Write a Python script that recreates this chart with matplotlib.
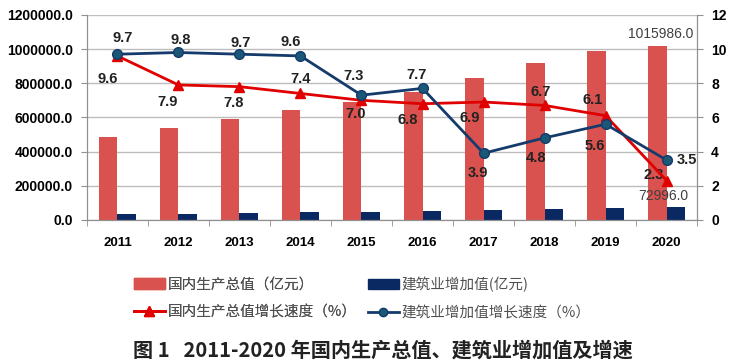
import numpy as np
import matplotlib.pyplot as plt
from matplotlib.lines import Line2D
from matplotlib.patches import Patch

plt.rcParams['font.family'] = ['Noto Sans CJK SC', 'DejaVu Sans']

years = ['2011', '2012', '2013', '2014', '2015', '2016', '2017', '2018', '2019', '2020']
gdp = [487940, 538580, 592963, 643563, 688858, 746395, 832036, 919281, 986515, 1015986]
cons = [32926, 36896, 40897, 44880, 46627, 49703, 55689, 61808, 70904, 72996]
gdp_rate = [9.6, 7.9, 7.8, 7.4, 7.0, 6.8, 6.9, 6.7, 6.1, 2.3]
cons_rate = [9.7, 9.8, 9.7, 9.6, 7.3, 7.7, 3.9, 4.8, 5.6, 3.5]

# label offsets in pixels (dx right, dy up) for the rate labels
gdp_off = [(-10, -23), (-11, -17), (-6, -16), (0, 14), (-6, -14),
           (-15, -16), (-14, -16), (-4, 13), (-13, 16), (-13, 6)]
cons_off = [(5, 16), (2, 12), (1, 11), (-10, 14), (-8, 19),
            (-6, 13), (-6, -20), (-9, -20), (-11, -22), (20, 0)]

RED_BAR = '#D9524F'
NAVY_BAR = '#0A2862'
RED_LINE = '#E00000'
NAVY_LINE = '#143B6B'
NUM_FONT = 'Liberation Sans'

fig = plt.figure(figsize=(7.3, 3.64), dpi=100)
ax = fig.add_axes([0.119, 0.396, 0.836, 0.563])
ax2 = ax.twinx()

x = np.arange(len(years))
w = 0.3
ax.bar(x - w / 2, gdp, width=w, color=RED_BAR, zorder=2)
ax.bar(x + w / 2, cons, width=w, color=NAVY_BAR, zorder=2)

ax.set_xlim(-0.5, len(years) - 0.5)
ax.set_ylim(0, 1200000)
yt = np.arange(0, 1200001, 200000)
ax.set_yticks(yt)
ax.set_yticklabels([f'{v:.1f}' for v in yt], fontsize=10, fontweight='bold', family=NUM_FONT)
ax.set_xticks(x)
ax.set_xticklabels(years, fontsize=9.5, fontweight='bold', family=NUM_FONT)
ax.set_xticks(np.arange(-0.5, len(years), 1), minor=True)
ax.tick_params(axis='x', which='major', length=0, pad=12)
ax.tick_params(axis='x', which='minor', length=4, color='#909090')
ax.tick_params(axis='y', length=4, color='#909090', pad=6)
ax.grid(axis='y', color='#BDBDBD', linewidth=1, zorder=0)
ax.set_axisbelow(True)
for s in ['left', 'right', 'bottom', 'top']:
    ax.spines[s].set_color('#909090')
ax.spines['top'].set_visible(False)

ax2.plot(x, gdp_rate, color=RED_LINE, lw=2, marker='^', ms=7, zorder=4)
ax2.plot(x, cons_rate, color=NAVY_LINE, lw=2, marker='o', ms=7,
         markerfacecolor='#1B5878', markeredgecolor=NAVY_LINE, zorder=5)
ax2.set_ylim(0, 12)
ax2.set_yticks(range(0, 13, 2))
ax2.set_yticklabels([str(v) for v in range(0, 13, 2)], fontsize=10, fontweight='bold',
                    family=NUM_FONT)
ax2.tick_params(axis='y', length=4, color='#909090', pad=6)
for s in ['left', 'right', 'bottom', 'top']:
    ax2.spines[s].set_color('#909090')
ax2.spines['top'].set_visible(False)

for vals, offs in ((gdp_rate, gdp_off), (cons_rate, cons_off)):
    for i, v in enumerate(vals):
        dx, dy = offs[i]
        ax2.annotate(f'{v:.1f}', (x[i], v), xytext=(dx * 0.72, dy * 0.72),
                     textcoords='offset points', ha='center', va='center',
                     fontsize=10.5, fontweight='bold', family=NUM_FONT, color='#222222')

ax.annotate(f'{gdp[-1]:.1f}', (x[-1] - w / 2, gdp[-1]), xytext=(2, 4), textcoords='offset points',
            ha='center', va='bottom', fontsize=10, family=NUM_FONT, color='#404040')
ax.annotate(f'{cons[-1]:.1f}', (x[-1] + w / 2, cons[-1]), xytext=(-9, 8), textcoords='offset points',
            ha='center', va='center', fontsize=10, family=NUM_FONT, color='#404040',
            zorder=6)

leg_kw = dict(loc='center left', frameon=False, fontsize=10.5, handlelength=2.1,
              handletextpad=0.2, labelspacing=0.95, borderpad=0, borderaxespad=0,
              labelcolor='#505050')
h1 = [Patch(color=RED_BAR), Line2D([], [], color=RED_LINE, lw=2, marker='^', ms=7)]
h2 = [Patch(color=NAVY_BAR), Line2D([], [], color=NAVY_LINE, lw=2, marker='o', ms=6,
                                    markerfacecolor='#1B5878')]
leg1 = fig.legend(h1, ['国内生产总值（亿元）', '国内生产总值增长速度（%）'],
                  bbox_to_anchor=(134 / 730, 1 - 298.5 / 364), **leg_kw)
fig.add_artist(leg1)
fig.legend(h2, ['建筑业增加值(亿元)', '建筑业增加值增长速度（%）'],
           bbox_to_anchor=(368 / 730, 1 - 298.5 / 364), **leg_kw)

fig.text(133 / 730, 1 - 350 / 364, '图 1   2011-2020 年国内生产总值、建筑业增加值及增速',
         ha='left', va='center', fontsize=14.5, fontweight='bold', color='#222222')

fig.savefig('out.png', dpi=100)
